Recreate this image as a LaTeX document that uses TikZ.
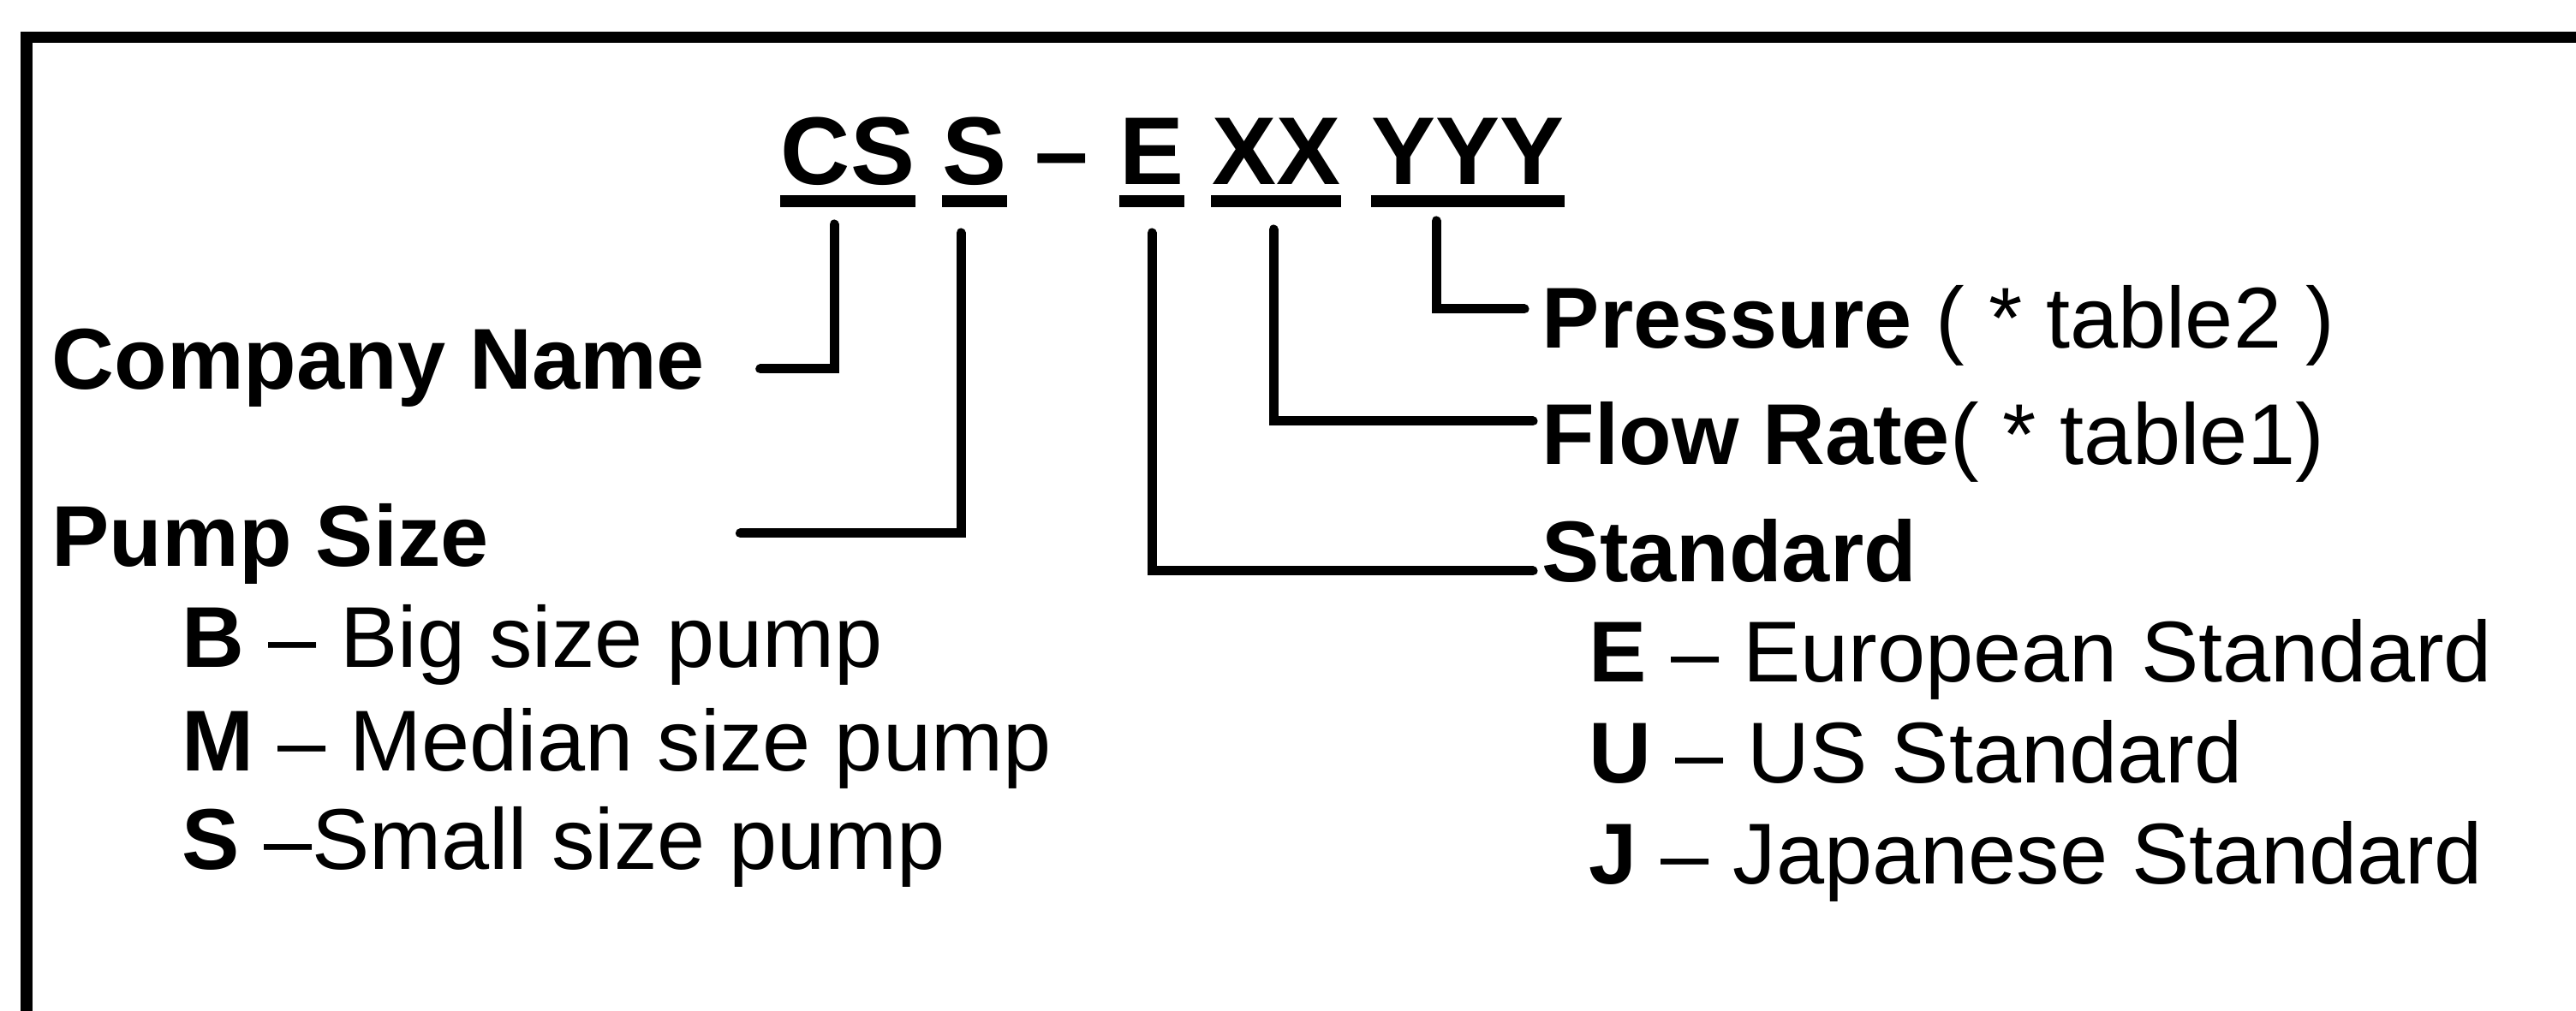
\documentclass[tikz,border=0pt]{standalone}
\usepackage{fontspec}
\setmainfont{Liberation Sans}
\usepackage{tikz}
\usetikzlibrary{positioning,calc}

\tikzset{
  codepart/.style={
    font=\fontsize{32}{38}\selectfont\bfseries,
    inner sep=0pt, anchor=base,
  },
  labeltext/.style={
    font=\fontsize{28.7}{34}\selectfont,
    inner sep=0pt, anchor=base west,
  },
  uline/.style={
    line width=0.14cm, line cap=butt,
  },
  link/.style={
    line width=0.11cm, line cap=round, line join=miter,
  },
  framebar/.style={
    line width=0.13cm, line join=miter,
  },
}

\begin{document}
\begin{tikzpicture}
  \useasboundingbox (0,0) rectangle (30.08,11.81);

  % ─── Open frame (top and left edge) ──────────────────────────────────
  \draw[framebar] (0.31,-0.2) -- (0.31,11.37) -- (30.3,11.37);

  % ─── Model code ──────────────────────────────────────────────────────
  \node[codepart] (cs)   at (9.90,9.65)  {CS};
  \node[codepart] (size) at (11.38,9.65) {S};
  \node[codepart] (dash) at (12.40,9.65) {–};
  \node[codepart] (std)  at (13.45,9.65) {E};
  \node[codepart] (flow) at (14.90,9.65) {XX};
  \node[codepart] (pres) at (17.14,9.65) {YYY};

  % underlines
  \draw[uline] ([yshift=-0.19cm]cs.base west) -- ([yshift=-0.19cm]cs.base east);
  \draw[uline] ([yshift=-0.19cm]size.base west) -- ([yshift=-0.19cm]size.base east);
  \draw[uline] ([yshift=-0.19cm]std.base west) -- ([yshift=-0.19cm]std.base east);
  \draw[uline] ([yshift=-0.19cm]flow.base west) -- ([yshift=-0.19cm]flow.base east);
  \draw[uline] ([yshift=-0.19cm]pres.base west) -- ([yshift=-0.19cm]pres.base east);

  % ─── Left labels ─────────────────────────────────────────────────────
  \node[labeltext] (company)  at (0.60,7.26) {\bfseries Company Name};
  \node[labeltext] (pumpsize) at (0.60,5.19) {\bfseries Pump Size};
  \node[labeltext] (big)    at (2.12,4.01) {\bfseries B\mdseries{} – Big size pump};
  \node[labeltext] (median) at (2.12,2.80) {\bfseries M\mdseries{} – Median size pump};
  \node[labeltext] (small)  at (2.12,1.65) {\bfseries S\mdseries{} –Small size pump};

  % ─── Right labels ────────────────────────────────────────────────────
  \node[labeltext] (pressure) at (18.00,7.74) {\textbf{Pressure} ( * table2 )};
  \node[labeltext] (flowrate) at (18.00,6.38) {\textbf{Flow Rate}( * table1)};
  \node[labeltext] (standard) at (18.00,5.01) {\bfseries Standard};
  \node[labeltext] (european) at (18.55,3.84) {\bfseries E\mdseries{} – European Standard};
  \node[labeltext] (usstd)    at (18.55,2.66) {\bfseries U\mdseries{} – US Standard};
  \node[labeltext] (japanese) at (18.55,1.48) {\bfseries J\mdseries{} – Japanese Standard};

  % ─── Connectors ──────────────────────────────────────────────────────
  \draw[link] ([xshift=-0.16cm,yshift=-0.46cm]cs.base)
    |- ([xshift=0.64cm,yshift=0.24cm]company.base east);
  \draw[link] ([xshift=-0.16cm,yshift=-0.56cm]size.base)
    |- ([xshift=2.93cm,yshift=0.39cm]pumpsize.base east);
  \draw[link] ([yshift=-0.56cm]std.base)
    |- ([xshift=-0.10cm,yshift=0.13cm]standard.base west);
  \draw[link] ([xshift=-0.03cm,yshift=-0.52cm]flow.base)
    |- ([xshift=-0.10cm,yshift=0.51cm]flowrate.base west);
  \draw[link] ([xshift=-0.37cm,yshift=-0.42cm]pres.base)
    |- ([xshift=-0.20cm,yshift=0.46cm]pressure.base west);

\end{tikzpicture}
\end{document}
